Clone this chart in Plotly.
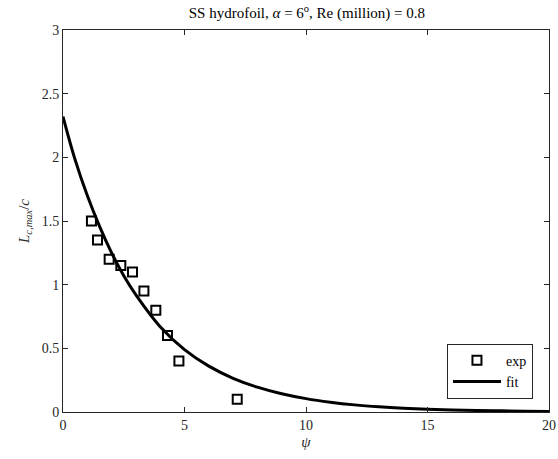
import plotly.graph_objects as go

# experimental data
psi_exp = [1.17, 1.42, 1.90, 2.38, 2.86, 3.33, 3.82, 4.30, 4.77, 7.17]
L_exp = [1.50, 1.35, 1.20, 1.15, 1.10, 0.95, 0.80, 0.60, 0.40, 0.10]

# fit curve values
psi_fit = [0, 0.5, 1, 1.5, 2, 2.5, 3, 4, 5, 6, 7, 8, 9, 10, 11, 12, 13, 14, 15, 16, 17, 18, 19, 20]
L_fit = [2.32, 1.98, 1.70, 1.46, 1.25, 1.07, 0.92, 0.67, 0.49, 0.36, 0.265, 0.195, 0.143,
         0.105, 0.077, 0.056, 0.041, 0.030, 0.022, 0.016, 0.012, 0.009, 0.0065, 0.0047]

x_ticks = [0, 5, 10, 15, 20]
y_ticks = [0, 0.5, 1, 1.5, 2, 2.5, 3]
y_tick_text = ["0", "0.5", "1", "1.5", "2", "2.5", "3"]

font_family = "Liberation Serif"
axcol = "#262626"

fig = go.Figure()
fig.add_trace(go.Scatter(
    x=psi_exp, y=L_exp, mode="markers", name="exp",
    marker=dict(symbol="square-open", size=9, color="black", line=dict(width=2, color="black")),
))
fig.add_trace(go.Scatter(
    x=psi_fit, y=L_fit, mode="lines", name="fit",
    line=dict(color="black", width=3, shape="spline", smoothing=1.0),
))

fig.update_layout(
    width=558, height=459,
    margin=dict(l=63, r=9, t=30, b=47, autoexpand=False),
    paper_bgcolor="white", plot_bgcolor="white",
    font=dict(family=font_family, size=14, color=axcol),
    title=dict(text="SS hydrofoil, <i>α</i> = 6<sup>o</sup>, Re (million) = 0.8",
               x=0.55, xanchor="center", y=0.972, yanchor="middle",
               font=dict(size=15, color="black", family=font_family)),
    showlegend=True,
    legend=dict(x=0.967, y=0.035, xanchor="right", yanchor="bottom",
                bordercolor=axcol, borderwidth=1, bgcolor="white",
                font=dict(size=14, color="black", family=font_family),
                tracegroupgap=0, itemwidth=48),
)
fig.update_xaxes(
    range=[0, 20], tickvals=x_ticks, ticks="inside", ticklen=5, tickcolor=axcol,
    showline=True, linecolor=axcol, linewidth=1, mirror="ticks",
    showgrid=False, zeroline=False, automargin=False,
    title=dict(text="<i>ψ</i>", standoff=4, font=dict(size=15, family=font_family)),
    tickfont=dict(size=14, family=font_family, color=axcol),
)
fig.update_yaxes(
    range=[0, 3], tickvals=y_ticks, ticktext=y_tick_text, ticks="inside", ticklen=5, tickcolor=axcol,
    showline=True, linecolor=axcol, linewidth=1, mirror="ticks",
    showgrid=False, zeroline=False, automargin=False,
    title=dict(text="<i>L</i><sub><i>c,max</i></sub>/<i>c</i>", standoff=8,
               font=dict(size=15, family=font_family)),
    tickfont=dict(size=14, family=font_family, color=axcol),
)

fig.write_html("out.html")
